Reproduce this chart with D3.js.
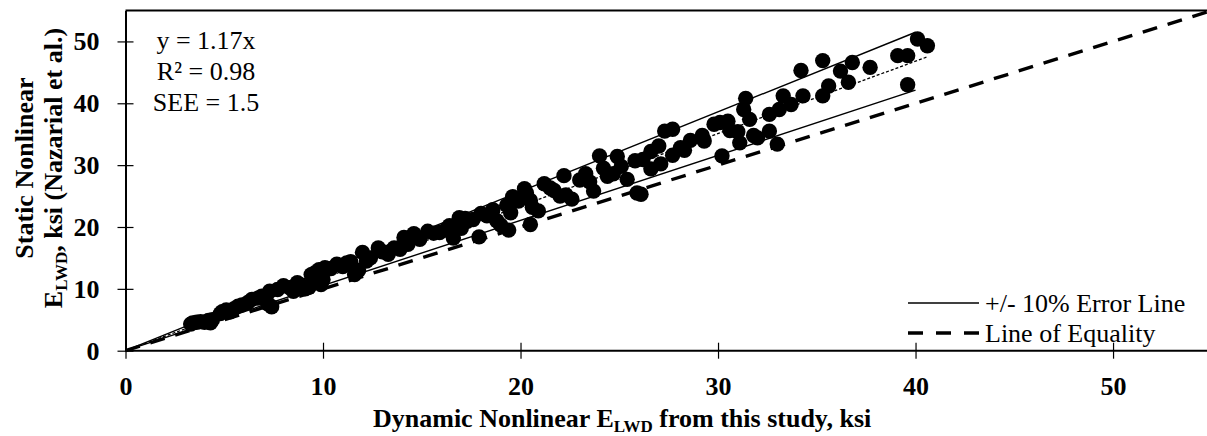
<!DOCTYPE html>
<html>
<head>
<meta charset="utf-8">
<script src="https://cdn.jsdelivr.net/npm/d3@7"></script>
<style>
  html, body { margin: 0; padding: 0; background: #fff; overflow: hidden; }
  svg { display: block; font-family: "Liberation Serif", "Times New Roman", serif; }
</style>
</head>
<body>
<svg id="chart" width="1207" height="436"></svg>
<script>
// Dynamic nonlinear E_LWD (this study), ksi
const dynamicE = [
  3.3, 3.4, 3.6, 3.8, 4.0, 4.2, 4.4, 4.3, 4.8, 4.9, 5.1, 5.3, 5.5, 5.7, 5.9, 6.2, 6.4, 6.7, 6.9, 7.1,
  7.3, 7.4, 7.2, 7.7, 8.0, 8.3, 8.5, 8.7, 8.9, 9.1, 9.3, 9.4, 9.6, 9.8, 9.9, 10.0, 10.1, 10.4, 10.7, 11.0,
  11.2, 11.4, 11.6, 11.8, 12.0, 12.2, 12.4, 12.8, 13.0, 13.3, 13.6, 13.9, 14.1, 14.3, 14.6, 14.9, 15.3, 15.6, 15.9, 16.2,
  16.4, 16.6, 16.9, 17.0, 17.3, 17.2, 17.6, 17.9, 18.0, 18.3, 18.6, 18.8, 19.0, 19.4, 19.3, 19.5, 19.6, 19.9, 20.2, 20.3,
  20.5, 20.6, 20.5, 20.9, 21.2, 21.5, 21.7, 22.0, 22.2, 22.3, 22.6, 23.0, 23.3, 23.5, 23.7, 24.0, 24.2, 24.4, 24.7, 24.9,
  25.1, 25.4, 25.8, 25.9, 26.1, 26.2, 26.6, 26.6, 27.0, 27.1, 27.3, 27.7, 27.7, 28.1, 28.3, 28.6, 29.2, 29.3, 29.8, 30.1,
  30.2, 30.5, 30.6, 31.0, 31.1, 31.3, 31.4, 31.6, 31.8, 32.0, 32.6, 32.6, 33.0, 33.1, 33.3, 33.7, 34.2, 34.3, 35.3, 35.3,
  35.6, 36.2, 36.6, 36.8, 37.7, 39.1, 39.6, 39.6, 40.1, 40.6
];
// Static nonlinear E_LWD (Nazarial et al.), ksi
const staticE = [
  4.3, 4.5, 4.6, 4.7, 4.6, 4.9, 5.0, 4.5, 6.0, 6.3, 6.6, 6.3, 6.8, 7.2, 7.4, 7.8, 8.3, 8.5, 8.8, 8.6,
  9.6, 7.1, 7.6, 9.9, 10.5, 10.2, 9.6, 11.0, 10.6, 10.0, 10.3, 12.3, 12.6, 13.1, 10.7, 11.5, 13.4, 13.3, 14.0, 13.6,
  14.2, 14.4, 12.3, 13.0, 15.9, 14.5, 15.0, 16.6, 16.0, 15.6, 16.6, 16.4, 18.3, 17.2, 18.9, 18.0, 19.3, 19.0, 19.1, 19.5,
  20.2, 18.2, 21.5, 19.8, 20.9, 21.4, 21.2, 18.4, 22.2, 21.8, 22.8, 21.0, 20.3, 19.5, 23.5, 22.3, 24.9, 24.2, 26.2, 25.5,
  24.3, 23.2, 20.4, 22.6, 27.0, 26.3, 25.9, 25.0, 28.3, 25.2, 24.5, 27.6, 28.6, 27.3, 25.8, 31.5, 29.5, 28.2, 28.6, 31.4,
  29.8, 27.7, 30.7, 25.5, 25.3, 30.9, 32.2, 29.4, 33.1, 30.2, 35.5, 35.8, 31.6, 32.8, 32.4, 34.0, 34.8, 33.9, 36.6, 36.9,
  31.5, 37.1, 35.6, 35.4, 33.6, 39.0, 40.8, 37.4, 34.8, 34.4, 38.2, 35.5, 33.4, 39.0, 41.2, 39.8, 45.3, 41.2, 46.9, 41.2,
  42.8, 45.2, 43.4, 46.6, 45.8, 47.7, 47.7, 43.0, 50.4, 49.3
];

const xTicks = [0, 10, 20, 30, 40, 50];
const yTicks = [0, 10, 20, 30, 40, 50];
const slope = 1.17;                 // regression through origin
const errorBand = [0.9, 1.1];       // +/- 10 %
const statLines = ["y = 1.17x", "R² = 0.98", "SEE = 1.5"];
const legendItems = ["+/- 10% Error Line", "Line of Equality"];

const svg = d3.select("#chart");
const x = d3.scaleLinear().domain([0, 55]).range([125.5, 1211.8]);
const y = d3.scaleLinear().domain([0, 55]).range([350.7, 10.5]);

// top border of the plot area
svg.append("line")
  .attr("x1", x(0)).attr("x2", 1207)
  .attr("y1", y(55)).attr("y2", y(55))
  .attr("stroke", "#000").attr("stroke-width", 2);

const line = d3.line().x(d => x(d[0])).y(d => y(d[1]));

// +/- 10% error lines
errorBand.forEach(f => {
  svg.append("path")
    .attr("d", line([[0, 0], [40, 40 * slope * f]]))
    .attr("fill", "none").attr("stroke", "#000").attr("stroke-width", 1.4);
});

// fitted trend line (dotted)
svg.append("path")
  .attr("d", line([[0, 0], [40.6, 40.6 * slope]]))
  .attr("fill", "none").attr("stroke", "#000").attr("stroke-width", 1.3)
  .attr("stroke-dasharray", "3,2");

// line of equality
svg.append("path")
  .attr("d", line([[0, 0], [55, 55]]))
  .attr("fill", "none").attr("stroke", "#000").attr("stroke-width", 3.4)
  .attr("stroke-dasharray", "15,11");

// data points
svg.append("g").selectAll("circle")
  .data(dynamicE.map((v, i) => [v, staticE[i]]))
  .join("circle")
  .attr("cx", d => x(d[0]))
  .attr("cy", d => y(d[1]))
  .attr("r", 7.7)
  .attr("fill", "#000");

// axes
const xAxis = d3.axisBottom(x).tickValues(xTicks).tickSizeInner(8).tickSizeOuter(0).tickPadding(18);
const gx = svg.append("g").attr("transform", `translate(0,${y(0)})`).call(xAxis);
gx.select(".domain").attr("stroke-width", 2).attr("d", `M${x(0)},0H1207`);
gx.selectAll(".tick line").attr("y1", -8).attr("y2", 8).attr("stroke-width", 1.2);
gx.selectAll(".tick text")
  .attr("font-family", "Liberation Serif").attr("font-size", 26).attr("font-weight", "bold")
  .attr("fill", "#000");

const yAxis = d3.axisLeft(y).tickValues(yTicks).tickSizeInner(8).tickSizeOuter(0).tickPadding(18);
const gy = svg.append("g").attr("transform", `translate(${x(0)},0)`).call(yAxis);
gy.select(".domain").attr("stroke-width", 2);
gy.selectAll(".tick line").attr("x1", -8).attr("x2", 8).attr("stroke-width", 1.2);
gy.selectAll(".tick text")
  .attr("font-family", "Liberation Serif").attr("font-size", 26).attr("font-weight", "bold")
  .attr("fill", "#000");

// regression statistics
svg.append("g").selectAll("text")
  .data(statLines)
  .join("text")
  .attr("x", 206)
  .attr("y", (d, i) => 49 + i * 31)
  .attr("text-anchor", "middle")
  .attr("font-size", 26)
  .text(d => d);

// axis titles
const xt = svg.append("text")
  .attr("x", 373).attr("y", 427)
  .attr("text-anchor", "start")
  .attr("font-size", 26).attr("font-weight", "bold");
xt.append("tspan").text("Dynamic Nonlinear E");
xt.append("tspan").attr("font-size", 17).attr("dy", 5).text("LWD");
xt.append("tspan").attr("dy", -5).text(" from this study, ksi");

const yt = svg.append("g").attr("transform", "translate(0,168) rotate(-90)");
yt.append("text")
  .attr("x", 0).attr("y", 33)
  .attr("text-anchor", "middle")
  .attr("font-size", 26).attr("font-weight", "bold")
  .text("Static Nonlinear");
const yt2 = yt.append("text")
  .attr("x", 0).attr("y", 62)
  .attr("text-anchor", "middle")
  .attr("font-size", 26).attr("font-weight", "bold");
yt2.append("tspan").text("E");
yt2.append("tspan").attr("font-size", 17).attr("dy", 5).text("LWD");
yt2.append("tspan").attr("dy", -5).text(", ksi (Nazarial et al.)");

// legend
const legend = svg.append("g");
legendItems.forEach((label, i) => {
  const ly = 303 + i * 30;
  legend.append("line")
    .attr("x1", 908).attr("x2", 979).attr("y1", ly).attr("y2", ly)
    .attr("stroke", "#000")
    .attr("stroke-width", i === 0 ? 1.4 : 3.4)
    .attr("stroke-dasharray", i === 0 ? null : "15,13");
  legend.append("text")
    .attr("x", 985).attr("y", ly + 9)
    .attr("font-size", 26)
    .text(label);
});
</script>
</body>
</html>
